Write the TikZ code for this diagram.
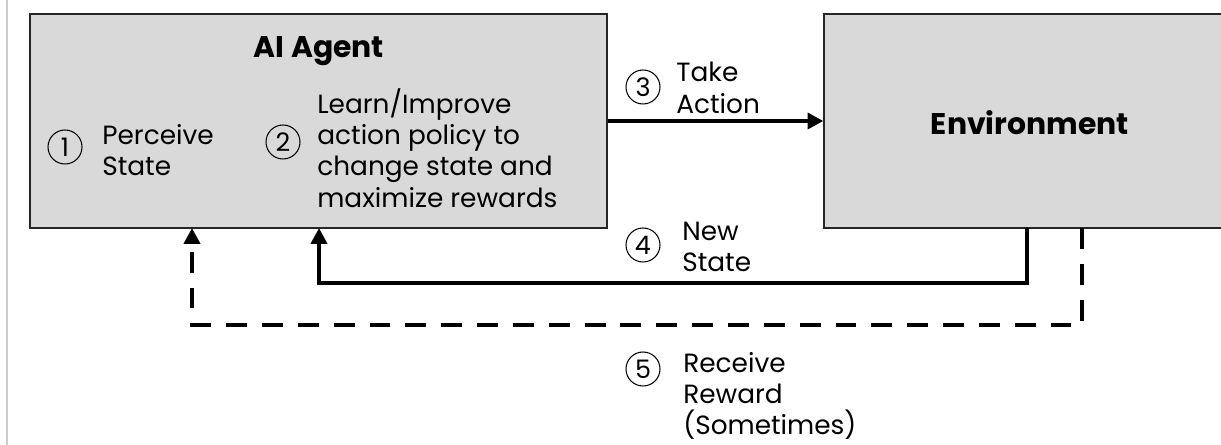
\documentclass[tikz,border=0pt]{standalone}
\usepackage{fontspec}
\setmainfont{Poppins}
\usepackage{tikz}
\usetikzlibrary{arrows.meta,positioning,calc}

\begin{document}
\begin{tikzpicture}[x=0.02cm, y=-0.02cm, >={Triangle[length=9pt,width=9pt]},
  box/.style={draw=black!85, fill=black!15, line width=0.7pt, inner sep=0pt},
  title/.style={font=\fontsize{17}{20}\selectfont\bfseries, anchor=base, inner sep=0pt},
  txt/.style={font=\fontsize{15}{17.8}\selectfont, align=left, anchor=west, inner sep=0pt},
  num/.style={draw, circle, line width=0.6pt, minimum size=0.68cm, inner sep=0pt, font=\fontsize{14.5}{14.5}\selectfont},
  flow/.style={line width=2.6pt},
  rwd/.style={line width=2.6pt, dash pattern=on 11.9pt off 8.5pt}]
\clip (0,0) rectangle (1221,445);
\fill[white] (0,0) rectangle (1221,445);
\draw[black!20, line width=0.6pt] (7,0) -- (7,445);
% boxes
\node[box, minimum width=11.54cm, minimum height=4.28cm] (agent) at (318.5,121) {};
\node[box, minimum width=8.24cm, minimum height=4.28cm] (env) at (1030,121) {};
\node[title] (agentlabel) at (319,58) {AI Agent};
\node[title] (envlabel) at (1030,135) {Environment};
% steps
\node[num] (n1) at (65,147) {1};
\node[txt] (perceive) at (102,150) {Perceive\\State};
\node[num] (n2) at (283,142) {2};
\node[txt] (learn) at (317,148) {Learn/Improve\\action policy to\\change state and\\maximize rewards};
\node[num] (n3) at (643,87) {3};
\node[txt] (action) at (676,88) {Take\\Action};
\node[num] (n4) at (643,245) {4};
\node[txt] (newstate) at (682,247) {New\\State};
\node[num] (n5) at (643,369) {5};
\node[txt] (reward) at (683,396) {Receive\\Reward\\(Sometimes)};
% connectors
\coordinate (newout) at (1027,228);
\coordinate (newin) at (319,228);
\coordinate (rwdout) at (1082,228);
\coordinate (rwdin) at (192,228);
\draw[flow,->] (agent) -- (env);
\draw[flow,->] (newout) -- ++(0,55) -| (newin);
\draw[rwd,->] (rwdout) -- ++(0,97) -| (rwdin);
\end{tikzpicture}
\end{document}
